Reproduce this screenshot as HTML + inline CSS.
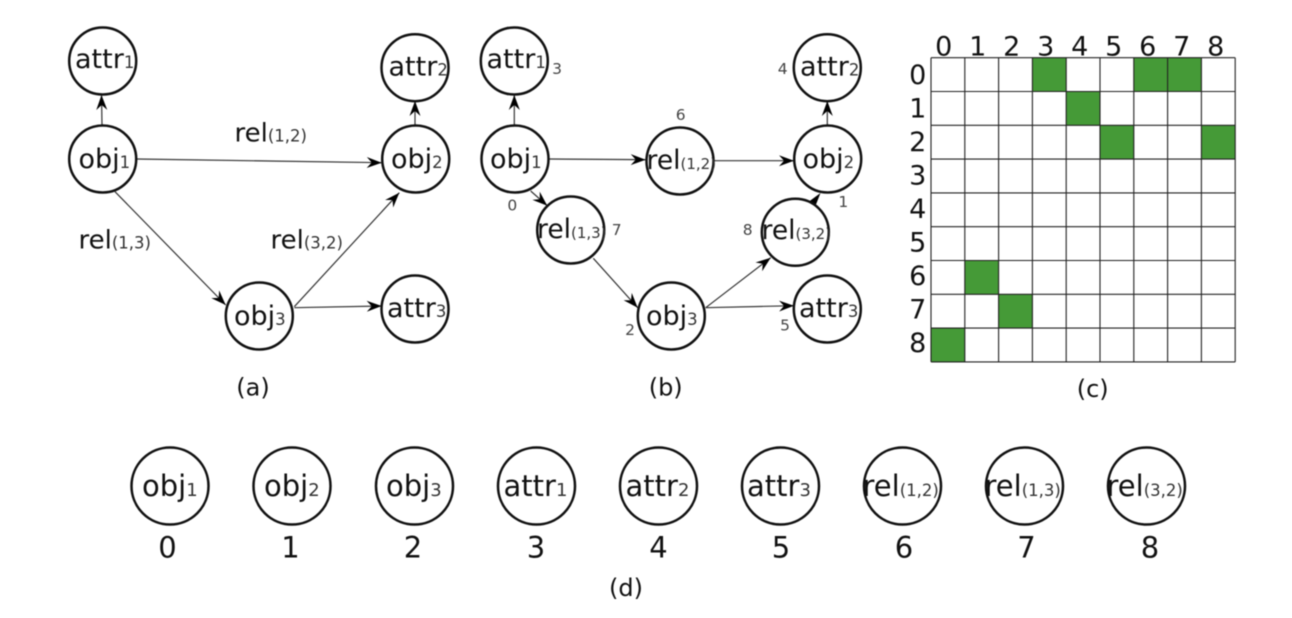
<!DOCTYPE html>
<html><head><meta charset="utf-8"><style>
html,body{margin:0;padding:0;background:#fff;width:1292px;height:618px;overflow:hidden}
svg{display:block;filter:blur(.4px)}
text{font-family:"DejaVu Sans","Liberation Sans",sans-serif;fill:#111}
.n{font-size:27px}.n tspan{font-size:16.5px;fill:#333}
.r{font-size:26.5px}.r tspan{font-size:15px;fill:#333}
.l{font-size:26px}.l tspan{font-size:16.5px;fill:#333}
.d{font-size:29px}.d tspan{font-size:18px;fill:#333}
.dr{font-size:29px}.dr tspan{font-size:16.5px;fill:#333}
.c{font-size:24px;text-anchor:middle}
.s{font-size:15.5px;fill:#444;text-anchor:middle}
.g{font-size:27px;text-anchor:middle;fill:#111}
.b{font-size:29px;text-anchor:middle;fill:#111}
circle{fill:none;stroke:#111;stroke-width:2.5}
.e line{stroke:#333;stroke-width:1.2;marker-end:url(#a)}
.m line{stroke:#222;stroke-width:1.1}
</style></head><body>
<svg width="1292" height="618" viewBox="0 0 1292 618" xmlns="http://www.w3.org/2000/svg">
<defs><marker id="a" markerUnits="userSpaceOnUse" markerWidth="16" markerHeight="14" refX="15" refY="7" orient="auto"><path d="M0,1.5 L15,7 L0,12.5 L5,7 Z" fill="#000"/></marker></defs>

<g class="e">
<line x1="102" y1="125" x2="101.5" y2="95"/>
<line x1="415" y1="125" x2="415" y2="101"/>
<line x1="136.7" y1="159" x2="381.7" y2="162.7"/>
<line x1="115" y1="191.7" x2="225.7" y2="305"/>
<line x1="294.3" y1="306.7" x2="399.3" y2="192.7"/>
<line x1="294.3" y1="307.7" x2="381.7" y2="306"/>
<line x1="514.3" y1="125" x2="514.3" y2="95"/>
<line x1="827.3" y1="125" x2="827.3" y2="101"/>
<line x1="549.3" y1="159" x2="645.7" y2="159.7"/>
<line x1="714.3" y1="160.7" x2="794" y2="160.7"/>
<line x1="530.7" y1="191" x2="547.3" y2="205.7"/>
<line x1="593.3" y1="258.3" x2="637.7" y2="307.7"/>
<line x1="705.7" y1="307.7" x2="770.7" y2="257.7"/>
<line x1="705.7" y1="307.7" x2="794" y2="305.7"/>
</g>
<polygon points="820.5,193 809,201.5 816,204.5" fill="#000"/>

<circle cx="102.7" cy="61" r="33.5"/><circle cx="415" cy="67.7" r="33.5"/>
<circle cx="102.7" cy="159" r="33.5"/><circle cx="415.7" cy="159" r="33.5"/>
<circle cx="259.3" cy="316" r="33.5"/><circle cx="415" cy="309" r="33.5"/>
<text class="n" x="75" y="68">attr<tspan>1</tspan></text>
<text class="n" x="388.5" y="75.5">attr<tspan>2</tspan></text>
<text class="n" x="78.5" y="168">obj<tspan>1</tspan></text>
<text class="n" x="391" y="168">obj<tspan>2</tspan></text>
<text class="n" x="234" y="325">obj<tspan>3</tspan></text>
<text class="n" x="387" y="317">attr<tspan>3</tspan></text>
<text class="l" x="234.5" y="141.5">rel<tspan>(1,2)</tspan></text>
<text class="l" x="78.5" y="248.5">rel<tspan>(1,3)</tspan></text>
<text class="l" x="270.5" y="248.5">rel<tspan>(3,2)</tspan></text>
<text class="c" x="253" y="395.5">(a)</text>

<circle cx="514.3" cy="61" r="33.5"/><circle cx="827.3" cy="67.7" r="33.5"/>
<circle cx="515" cy="159" r="33.5"/><circle cx="680" cy="161" r="33.5"/>
<circle cx="827.7" cy="159" r="33.5"/><circle cx="570.7" cy="230" r="33.5"/>
<circle cx="795.3" cy="232.3" r="33.5"/><circle cx="671.3" cy="316" r="33.5"/>
<circle cx="827.3" cy="309" r="33.5"/>
<text class="n" x="486.5" y="68">attr<tspan>1</tspan></text>
<text class="n" x="800" y="75.5">attr<tspan>2</tspan></text>
<text class="n" x="490" y="168">obj<tspan>1</tspan></text>
<text class="r" x="646.5" y="169">rel<tspan>(1,2)</tspan></text>
<text class="n" x="802.5" y="168">obj<tspan>2</tspan></text>
<text class="r" x="537" y="238">rel<tspan>(1,3)</tspan></text>
<text class="r" x="761.5" y="239">rel<tspan>(3,2)</tspan></text>
<text class="n" x="646" y="325">obj<tspan>3</tspan></text>
<text class="n" x="799" y="317">attr<tspan>3</tspan></text>
<text class="s" x="557" y="74">3</text><text class="s" x="782.7" y="74">4</text>
<text class="s" x="680.7" y="120">6</text><text class="s" x="512.3" y="210.7">0</text>
<text class="s" x="616.7" y="235">7</text><text class="s" x="747.7" y="235">8</text>
<text class="s" x="843.3" y="207">1</text><text class="s" x="630" y="335">2</text>
<text class="s" x="785" y="330.7">5</text>
<text class="c" x="665.7" y="395.5">(b)</text>

<g fill="#459a37">
<rect x="1032.4" y="57.7" width="33.8" height="33.8"/><rect x="1133.8" y="57.7" width="33.8" height="33.8"/><rect x="1167.6" y="57.7" width="33.8" height="33.8"/>
<rect x="1066.2" y="91.5" width="33.8" height="33.8"/>
<rect x="1100" y="125.3" width="33.8" height="33.8"/><rect x="1201.4" y="125.3" width="33.8" height="33.8"/>
<rect x="964.8" y="260.5" width="33.8" height="33.8"/>
<rect x="998.6" y="294.3" width="33.8" height="33.8"/>
<rect x="931" y="328.1" width="33.8" height="33.8"/>
</g>
<g class="m">
<line x1="931" y1="57.7" x2="931" y2="361.9"/><line x1="964.8" y1="57.7" x2="964.8" y2="361.9"/><line x1="998.6" y1="57.7" x2="998.6" y2="361.9"/><line x1="1032.4" y1="57.7" x2="1032.4" y2="361.9"/><line x1="1066.2" y1="57.7" x2="1066.2" y2="361.9"/><line x1="1100" y1="57.7" x2="1100" y2="361.9"/><line x1="1133.8" y1="57.7" x2="1133.8" y2="361.9"/><line x1="1167.6" y1="57.7" x2="1167.6" y2="361.9"/><line x1="1201.4" y1="57.7" x2="1201.4" y2="361.9"/><line x1="1235.2" y1="57.7" x2="1235.2" y2="361.9"/>
<line x1="931" y1="57.7" x2="1235.2" y2="57.7"/><line x1="931" y1="91.5" x2="1235.2" y2="91.5"/><line x1="931" y1="125.3" x2="1235.2" y2="125.3"/><line x1="931" y1="159.1" x2="1235.2" y2="159.1"/><line x1="931" y1="192.9" x2="1235.2" y2="192.9"/><line x1="931" y1="226.7" x2="1235.2" y2="226.7"/><line x1="931" y1="260.5" x2="1235.2" y2="260.5"/><line x1="931" y1="294.3" x2="1235.2" y2="294.3"/><line x1="931" y1="328.1" x2="1235.2" y2="328.1"/><line x1="931" y1="361.9" x2="1235.2" y2="361.9"/>
</g>
<text class="g" x="943.7" y="55.5">0</text><text class="g" x="977.7" y="55.5">1</text><text class="g" x="1011.7" y="55.5">2</text><text class="g" x="1045.7" y="55.5">3</text><text class="g" x="1079.7" y="55.5">4</text><text class="g" x="1113.7" y="55.5">5</text><text class="g" x="1147.7" y="55.5">6</text><text class="g" x="1181.7" y="55.5">7</text><text class="g" x="1215.7" y="55.5">8</text>
<text class="g" x="917.7" y="84">0</text><text class="g" x="917.7" y="117.5">1</text><text class="g" x="917.7" y="151">2</text><text class="g" x="917.7" y="184.5">3</text><text class="g" x="917.7" y="218">4</text><text class="g" x="917.7" y="251.5">5</text><text class="g" x="917.7" y="285">6</text><text class="g" x="917.7" y="318.5">7</text><text class="g" x="917.7" y="352">8</text>
<text class="c" x="1092.7" y="397">(c)</text>

<circle cx="170" cy="486" r="38.5"/><circle cx="292" cy="486" r="38.5"/><circle cx="414.5" cy="486" r="38.5"/>
<circle cx="536.5" cy="486" r="38.5"/><circle cx="658.5" cy="486" r="38.5"/><circle cx="780.5" cy="486" r="38.5"/>
<circle cx="902.5" cy="486" r="38.5"/><circle cx="1024.5" cy="486" r="38.5"/><circle cx="1146.5" cy="486" r="38.5"/>
<text class="d" x="142" y="496">obj<tspan>1</tspan></text>
<text class="d" x="264" y="496">obj<tspan>2</tspan></text>
<text class="d" x="386" y="496">obj<tspan>3</tspan></text>
<text class="d" x="503.5" y="496">attr<tspan>1</tspan></text>
<text class="d" x="625.5" y="496">attr<tspan>2</tspan></text>
<text class="d" x="747" y="496">attr<tspan>3</tspan></text>
<text class="dr" x="862.5" y="496">rel<tspan>(1,2)</tspan></text>
<text class="dr" x="984.5" y="496">rel<tspan>(1,3)</tspan></text>
<text class="dr" x="1106.5" y="496">rel<tspan>(3,2)</tspan></text>
<text class="b" x="167.5" y="557.5">0</text><text class="b" x="290.5" y="557.5">1</text><text class="b" x="413" y="557.5">2</text><text class="b" x="536" y="557.5">3</text><text class="b" x="658.5" y="557.5">4</text><text class="b" x="781" y="557.5">5</text><text class="b" x="904" y="557.5">6</text><text class="b" x="1026.5" y="557.5">7</text><text class="b" x="1150" y="557.5">8</text>
<text class="c" x="626" y="596">(d)</text>
</svg>
</body></html>
